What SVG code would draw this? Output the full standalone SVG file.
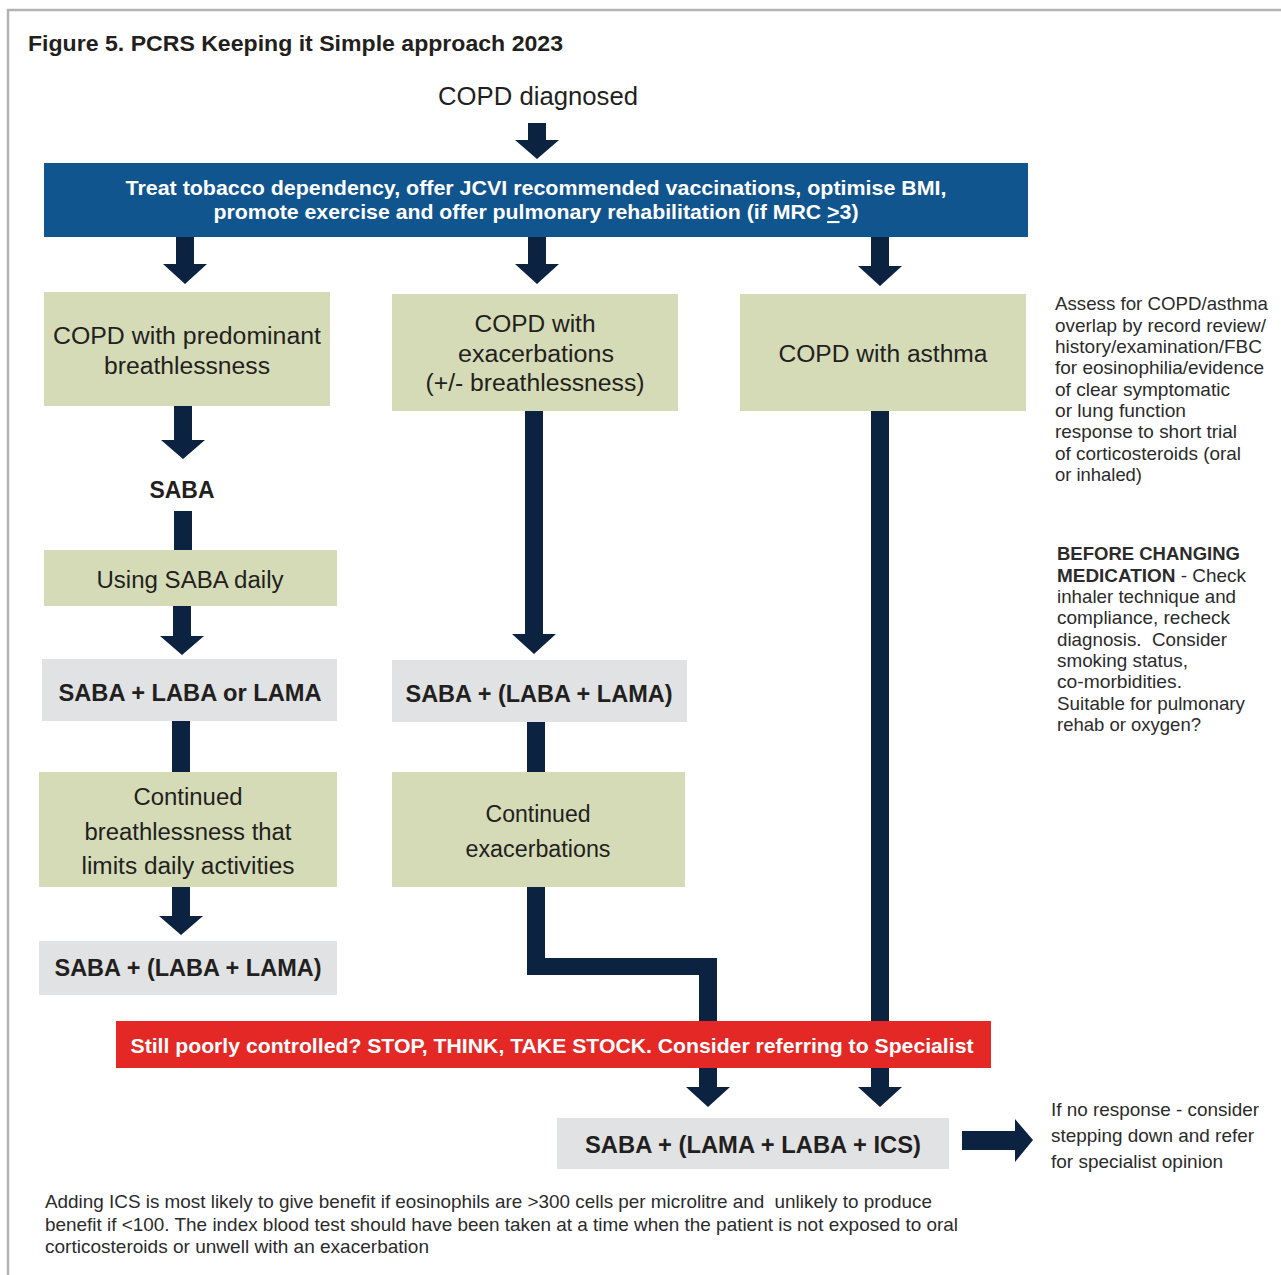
<svg xmlns="http://www.w3.org/2000/svg" width="1281" height="1275" viewBox="0 0 1281 1275">
<style>
  text { font-family: "Liberation Sans", Arial, Helvetica, sans-serif; fill: #231f20; }
  .title { font-size: 22.5px; font-weight: bold; }
  .big { font-size: 26px; }
  .lbl { font-size: 23.5px; text-anchor: middle; }
  .bold { font-weight: bold; }
  .wt { fill: #ffffff; font-weight: bold; font-size: 21px; text-anchor: middle; }
  .note { font-size: 18.5px; fill: #2b2b2b; }
  .green { fill: #d5dbb7; }
  .gray { fill: #e1e2e4; }
  .conn { fill: #0b2340; }
</style>

<g id="frame">
  <path d="M8,1275 V10 H1281" fill="none" stroke="#b3b3b3" stroke-width="2.5"/>
</g>

<text id="title" class="title" x="28" y="51" textLength="535" lengthAdjust="spacingAndGlyphs">Figure 5. PCRS Keeping it Simple approach 2023</text>

<g id="connectors">
  <path class="conn" d="M528,123 H546 V140 H559 L537,159 L515,140 H528 Z"/>
  <path class="conn" d="M176,237 H194 V264 H207 L185,284 L163,264 H176 Z"/>
  <path class="conn" d="M528,237 H546 V264 H559 L537,284 L515,264 H528 Z"/>
  <path class="conn" d="M871,237 H889 V266 H902 L880,286 L858,266 H871 Z"/>
  <path class="conn" d="M174,406 H192 V440 H205 L183,459 L161,440 H174 Z"/>
  <rect class="conn" x="174" y="511" width="18" height="40"/>
  <path class="conn" d="M173,606 H191 V636 H204 L182,655 L160,636 H173 Z"/>
  <rect class="conn" x="172" y="720" width="18" height="53"/>
  <path class="conn" d="M172,887 H190 V916 H203 L181,935 L159,916 H172 Z"/>
  <path class="conn" d="M525,411 H543 V634 H556 L534,654 L512,634 H525 Z"/>
  <rect class="conn" x="527" y="721" width="18" height="52"/>
  <path class="conn" d="M527,887 H545 V958 H717 V1087 H730 L708,1107 L686,1087 H699 V975 H527 Z"/>
  <path class="conn" d="M871,411 H889 V1087 H902 L880,1107 L858,1087 H871 Z"/>
  <path class="conn" d="M962,1131 H1015 V1119 L1033,1140 L1015,1162 V1150 H962 Z"/>
</g>

<g id="copd-diagnosed">
  <text class="big" x="538" y="105" text-anchor="middle" textLength="200" lengthAdjust="spacingAndGlyphs">COPD diagnosed</text>
</g>

<g id="general-measures">
  <rect x="44" y="163" width="984" height="74" fill="#11558f"/>
  <text class="wt" x="536" y="195" textLength="821" lengthAdjust="spacingAndGlyphs">Treat tobacco dependency, offer JCVI recommended vaccinations, optimise BMI,</text>
  <text class="wt" x="536" y="219" textLength="645" lengthAdjust="spacingAndGlyphs">promote exercise and offer pulmonary rehabilitation (if MRC <tspan text-decoration="underline">&gt;</tspan>3)</text>
</g>

<g id="breathlessness">
  <rect class="green" x="44" y="292" width="286" height="114"/>
  <text class="lbl" x="187" y="344" textLength="268" lengthAdjust="spacingAndGlyphs">COPD with predominant</text>
  <text class="lbl" x="187" y="374" textLength="166" lengthAdjust="spacingAndGlyphs">breathlessness</text>
</g>

<g id="exacerbations">
  <rect class="green" x="392" y="294" width="286" height="117"/>
  <text class="lbl" x="535" y="332" textLength="121" lengthAdjust="spacingAndGlyphs">COPD with</text>
  <text class="lbl" x="536" y="362" textLength="156" lengthAdjust="spacingAndGlyphs">exacerbations</text>
  <text class="lbl" x="535" y="391" textLength="219" lengthAdjust="spacingAndGlyphs">(+/- breathlessness)</text>
</g>

<g id="asthma">
  <rect class="green" x="740" y="294" width="286" height="117"/>
  <text class="lbl" x="883" y="362" textLength="209" lengthAdjust="spacingAndGlyphs">COPD with asthma</text>
</g>

<g id="saba">
  <text class="lbl bold" x="182" y="498" textLength="65" lengthAdjust="spacingAndGlyphs">SABA</text>
</g>

<g id="using-saba">
  <rect class="green" x="44" y="550" width="293" height="56"/>
  <text class="lbl" x="190" y="588" textLength="187" lengthAdjust="spacingAndGlyphs">Using SABA daily</text>
</g>

<g id="saba-laba-or-lama">
  <rect class="gray" x="42" y="659" width="295" height="62"/>
  <text class="lbl bold" x="190" y="701" textLength="263" lengthAdjust="spacingAndGlyphs">SABA + LABA or LAMA</text>
</g>

<g id="continued-breathlessness">
  <rect class="green" x="39" y="772" width="298" height="115"/>
  <text class="lbl" x="188" y="805" textLength="109" lengthAdjust="spacingAndGlyphs">Continued</text>
  <text class="lbl" x="188" y="840" textLength="207" lengthAdjust="spacingAndGlyphs">breathlessness that</text>
  <text class="lbl" x="188" y="874" textLength="213" lengthAdjust="spacingAndGlyphs">limits daily activities</text>
</g>

<g id="left-laba-lama">
  <rect class="gray" x="39" y="941" width="298" height="54"/>
  <text class="lbl bold" x="188" y="976" textLength="267" lengthAdjust="spacingAndGlyphs">SABA + (LABA + LAMA)</text>
</g>

<g id="mid-laba-lama">
  <rect class="gray" x="392" y="660" width="295" height="62"/>
  <text class="lbl bold" x="539" y="702" textLength="267" lengthAdjust="spacingAndGlyphs">SABA + (LABA + LAMA)</text>
</g>

<g id="continued-exacerbations">
  <rect class="green" x="392" y="772" width="293" height="115"/>
  <text class="lbl" x="538" y="822" textLength="105" lengthAdjust="spacingAndGlyphs">Continued</text>
  <text class="lbl" x="538" y="857" textLength="145" lengthAdjust="spacingAndGlyphs">exacerbations</text>
</g>

<g id="still-poorly-controlled">
  <rect x="116" y="1021" width="875" height="47" fill="#e42826"/>
  <text class="wt" x="552" y="1053" textLength="843" lengthAdjust="spacingAndGlyphs">Still poorly controlled? STOP, THINK, TAKE STOCK. Consider referring to Specialist</text>
</g>

<g id="triple-therapy">
  <rect class="gray" x="557" y="1118" width="392" height="51"/>
  <text class="lbl bold" x="753" y="1153" textLength="336" lengthAdjust="spacingAndGlyphs">SABA + (LAMA + LABA + ICS)</text>
</g>

<g id="no-response-note">
  <text class="note" x="1051" y="1116" textLength="208" lengthAdjust="spacingAndGlyphs">If no response - consider</text>
  <text class="note" x="1051" y="1142" textLength="203" lengthAdjust="spacingAndGlyphs">stepping down and refer</text>
  <text class="note" x="1051" y="1168" textLength="172" lengthAdjust="spacingAndGlyphs">for specialist opinion</text>
</g>

<g id="asthma-note">
  <text class="note" x="1055" y="310" textLength="213" lengthAdjust="spacingAndGlyphs">Assess for COPD/asthma</text>
  <text class="note" x="1055" y="331.5" textLength="211" lengthAdjust="spacingAndGlyphs">overlap by record review/</text>
  <text class="note" x="1055" y="353" textLength="207" lengthAdjust="spacingAndGlyphs">history/examination/FBC</text>
  <text class="note" x="1055" y="374" textLength="209" lengthAdjust="spacingAndGlyphs">for eosinophilia/evidence</text>
  <text class="note" x="1055" y="395.5" textLength="175" lengthAdjust="spacingAndGlyphs">of clear symptomatic</text>
  <text class="note" x="1055" y="417" textLength="131" lengthAdjust="spacingAndGlyphs">or lung function</text>
  <text class="note" x="1055" y="438" textLength="182" lengthAdjust="spacingAndGlyphs">response to short trial</text>
  <text class="note" x="1055" y="459.5" textLength="186" lengthAdjust="spacingAndGlyphs">of corticosteroids (oral</text>
  <text class="note" x="1055" y="481" textLength="87" lengthAdjust="spacingAndGlyphs">or inhaled)</text>
</g>

<g id="before-changing-note">
  <text class="note bold" x="1057" y="560" textLength="183" lengthAdjust="spacingAndGlyphs">BEFORE CHANGING</text>
  <text class="note" x="1057" y="581.5" textLength="189" lengthAdjust="spacingAndGlyphs"><tspan font-weight="bold">MEDICATION</tspan> - Check</text>
  <text class="note" x="1057" y="603" textLength="179" lengthAdjust="spacingAndGlyphs">inhaler technique and</text>
  <text class="note" x="1057" y="624" textLength="173" lengthAdjust="spacingAndGlyphs">compliance, recheck</text>
  <text class="note" x="1057" y="645.5" textLength="170" lengthAdjust="spacingAndGlyphs" xml:space="preserve">diagnosis.  Consider</text>
  <text class="note" x="1057" y="667" textLength="131" lengthAdjust="spacingAndGlyphs">smoking status,</text>
  <text class="note" x="1057" y="688" textLength="125" lengthAdjust="spacingAndGlyphs">co-morbidities.</text>
  <text class="note" x="1057" y="709.5" textLength="188" lengthAdjust="spacingAndGlyphs">Suitable for pulmonary</text>
  <text class="note" x="1057" y="731" textLength="144" lengthAdjust="spacingAndGlyphs">rehab or oxygen?</text>
</g>

<g id="ics-note">
  <text class="note" x="45" y="1208" textLength="887" lengthAdjust="spacingAndGlyphs" xml:space="preserve">Adding ICS is most likely to give benefit if eosinophils are &gt;300 cells per microlitre and  unlikely to produce</text>
  <text class="note" x="45" y="1231" textLength="913" lengthAdjust="spacingAndGlyphs">benefit if &lt;100. The index blood test should have been taken at a time when the patient is not exposed to oral</text>
  <text class="note" x="45" y="1253" textLength="384" lengthAdjust="spacingAndGlyphs">corticosteroids or unwell with an exacerbation</text>
</g>
</svg>
